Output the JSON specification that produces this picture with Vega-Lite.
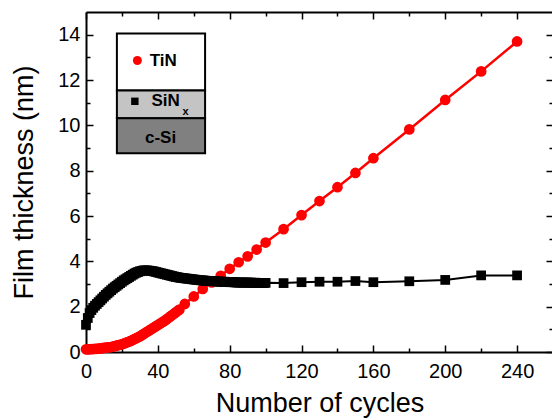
{
  "$schema": "https://vega.github.io/schema/vega-lite/v6.json",
  "width": 467,
  "height": 340,
  "autosize": {"type": "none"},
  "padding": {"left": 86, "top": 12, "right": 0, "bottom": 68},
  "background": "white",
  "config": {
    "view": {"stroke": null},
    "axis": {
      "labelFont": "Liberation Sans",
      "titleFont": "Liberation Sans",
      "labelFontSize": 20,
      "titleFontSize": 27,
      "titleFontWeight": "normal",
      "labelColor": "black",
      "titleColor": "black",
      "domainColor": "black",
      "tickColor": "black",
      "domainWidth": 2,
      "tickWidth": 1.5,
      "grid": false,
      "labelFlush": false,
      "labelOverlap": false
    }
  },
  "datasets": {
    "sinx": [
      {"cycles": 0, "thickness": 1.2}, {"cycles": 1, "thickness": 1.5}, {"cycles": 2, "thickness": 1.72}, {"cycles": 3, "thickness": 1.85}, {"cycles": 4, "thickness": 1.95},
      {"cycles": 5, "thickness": 2.04}, {"cycles": 6, "thickness": 2.12}, {"cycles": 7, "thickness": 2.2}, {"cycles": 8, "thickness": 2.28}, {"cycles": 9, "thickness": 2.36},
      {"cycles": 10, "thickness": 2.44}, {"cycles": 11, "thickness": 2.52}, {"cycles": 12, "thickness": 2.59}, {"cycles": 13, "thickness": 2.66}, {"cycles": 14, "thickness": 2.73},
      {"cycles": 15, "thickness": 2.8}, {"cycles": 16, "thickness": 2.86}, {"cycles": 17, "thickness": 2.92}, {"cycles": 18, "thickness": 2.98}, {"cycles": 19, "thickness": 3.04},
      {"cycles": 20, "thickness": 3.1}, {"cycles": 21, "thickness": 3.16}, {"cycles": 22, "thickness": 3.21}, {"cycles": 23, "thickness": 3.26}, {"cycles": 24, "thickness": 3.31},
      {"cycles": 25, "thickness": 3.36}, {"cycles": 26, "thickness": 3.41}, {"cycles": 27, "thickness": 3.46}, {"cycles": 28, "thickness": 3.5}, {"cycles": 29, "thickness": 3.53},
      {"cycles": 30, "thickness": 3.56}, {"cycles": 31, "thickness": 3.58}, {"cycles": 32, "thickness": 3.6}, {"cycles": 33, "thickness": 3.6}, {"cycles": 34, "thickness": 3.6},
      {"cycles": 35, "thickness": 3.59}, {"cycles": 36, "thickness": 3.58}, {"cycles": 37, "thickness": 3.57}, {"cycles": 38, "thickness": 3.55}, {"cycles": 39, "thickness": 3.53},
      {"cycles": 40, "thickness": 3.51}, {"cycles": 41, "thickness": 3.49}, {"cycles": 42, "thickness": 3.47}, {"cycles": 43, "thickness": 3.45}, {"cycles": 44, "thickness": 3.43},
      {"cycles": 45, "thickness": 3.41}, {"cycles": 46, "thickness": 3.39}, {"cycles": 47, "thickness": 3.37}, {"cycles": 48, "thickness": 3.35}, {"cycles": 49, "thickness": 3.33},
      {"cycles": 50, "thickness": 3.31}, {"cycles": 51, "thickness": 3.3}, {"cycles": 52, "thickness": 3.28}, {"cycles": 53, "thickness": 3.27}, {"cycles": 54, "thickness": 3.26},
      {"cycles": 55, "thickness": 3.25}, {"cycles": 56, "thickness": 3.24}, {"cycles": 57, "thickness": 3.23}, {"cycles": 58, "thickness": 3.22}, {"cycles": 59, "thickness": 3.21},
      {"cycles": 60, "thickness": 3.2}, {"cycles": 61, "thickness": 3.19}, {"cycles": 62, "thickness": 3.18}, {"cycles": 63, "thickness": 3.17}, {"cycles": 64, "thickness": 3.16},
      {"cycles": 65, "thickness": 3.16}, {"cycles": 66, "thickness": 3.15}, {"cycles": 67, "thickness": 3.14}, {"cycles": 68, "thickness": 3.14}, {"cycles": 69, "thickness": 3.13},
      {"cycles": 70, "thickness": 3.13}, {"cycles": 71, "thickness": 3.12}, {"cycles": 72, "thickness": 3.12}, {"cycles": 73, "thickness": 3.11}, {"cycles": 74, "thickness": 3.11},
      {"cycles": 75, "thickness": 3.1}, {"cycles": 76, "thickness": 3.1}, {"cycles": 77, "thickness": 3.1}, {"cycles": 78, "thickness": 3.09}, {"cycles": 79, "thickness": 3.09},
      {"cycles": 80, "thickness": 3.08}, {"cycles": 81, "thickness": 3.08}, {"cycles": 82, "thickness": 3.08}, {"cycles": 83, "thickness": 3.07}, {"cycles": 84, "thickness": 3.07},
      {"cycles": 85, "thickness": 3.06}, {"cycles": 86, "thickness": 3.07}, {"cycles": 87, "thickness": 3.06}, {"cycles": 88, "thickness": 3.06}, {"cycles": 89, "thickness": 3.07},
      {"cycles": 90, "thickness": 3.06}, {"cycles": 91, "thickness": 3.06}, {"cycles": 92, "thickness": 3.06}, {"cycles": 93, "thickness": 3.05}, {"cycles": 94, "thickness": 3.06},
      {"cycles": 95, "thickness": 3.05}, {"cycles": 96, "thickness": 3.05}, {"cycles": 97, "thickness": 3.05}, {"cycles": 98, "thickness": 3.05}, {"cycles": 99, "thickness": 3.04},
      {"cycles": 100, "thickness": 3.05}, {"cycles": 110, "thickness": 3.04}, {"cycles": 120, "thickness": 3.08}, {"cycles": 130, "thickness": 3.1}, {"cycles": 140, "thickness": 3.1},
      {"cycles": 150, "thickness": 3.13}, {"cycles": 160, "thickness": 3.08}, {"cycles": 180, "thickness": 3.12}, {"cycles": 200, "thickness": 3.18}, {"cycles": 220, "thickness": 3.38},
      {"cycles": 240, "thickness": 3.38}
    ],
    "tin": [
      {"cycles": 0, "thickness": 0.12}, {"cycles": 1, "thickness": 0.12}, {"cycles": 2, "thickness": 0.12}, {"cycles": 3, "thickness": 0.13}, {"cycles": 4, "thickness": 0.13},
      {"cycles": 5, "thickness": 0.14}, {"cycles": 6, "thickness": 0.14}, {"cycles": 7, "thickness": 0.15}, {"cycles": 8, "thickness": 0.16}, {"cycles": 9, "thickness": 0.17},
      {"cycles": 10, "thickness": 0.18}, {"cycles": 11, "thickness": 0.19}, {"cycles": 12, "thickness": 0.2}, {"cycles": 13, "thickness": 0.21}, {"cycles": 14, "thickness": 0.22},
      {"cycles": 15, "thickness": 0.24}, {"cycles": 16, "thickness": 0.26}, {"cycles": 17, "thickness": 0.28}, {"cycles": 18, "thickness": 0.3}, {"cycles": 19, "thickness": 0.32},
      {"cycles": 20, "thickness": 0.34}, {"cycles": 21, "thickness": 0.37}, {"cycles": 22, "thickness": 0.4}, {"cycles": 23, "thickness": 0.43}, {"cycles": 24, "thickness": 0.46},
      {"cycles": 25, "thickness": 0.49}, {"cycles": 26, "thickness": 0.53}, {"cycles": 27, "thickness": 0.57}, {"cycles": 28, "thickness": 0.61}, {"cycles": 29, "thickness": 0.65},
      {"cycles": 30, "thickness": 0.69}, {"cycles": 31, "thickness": 0.74}, {"cycles": 32, "thickness": 0.79}, {"cycles": 33, "thickness": 0.84}, {"cycles": 34, "thickness": 0.89},
      {"cycles": 35, "thickness": 0.94}, {"cycles": 36, "thickness": 0.99}, {"cycles": 37, "thickness": 1.04}, {"cycles": 38, "thickness": 1.09}, {"cycles": 39, "thickness": 1.14},
      {"cycles": 40, "thickness": 1.19}, {"cycles": 41, "thickness": 1.24}, {"cycles": 42, "thickness": 1.29}, {"cycles": 43, "thickness": 1.34}, {"cycles": 44, "thickness": 1.39},
      {"cycles": 45, "thickness": 1.45}, {"cycles": 46, "thickness": 1.51}, {"cycles": 47, "thickness": 1.57}, {"cycles": 48, "thickness": 1.63}, {"cycles": 49, "thickness": 1.69},
      {"cycles": 50, "thickness": 1.75}, {"cycles": 51, "thickness": 1.81}, {"cycles": 52, "thickness": 1.87}, {"cycles": 55, "thickness": 2.12}, {"cycles": 60, "thickness": 2.45},
      {"cycles": 65, "thickness": 2.78}, {"cycles": 70, "thickness": 3.07}, {"cycles": 75, "thickness": 3.36}, {"cycles": 80, "thickness": 3.67}, {"cycles": 85, "thickness": 3.96},
      {"cycles": 90, "thickness": 4.22}, {"cycles": 95, "thickness": 4.52}, {"cycles": 100, "thickness": 4.83}, {"cycles": 110, "thickness": 5.42}, {"cycles": 120, "thickness": 6.04},
      {"cycles": 130, "thickness": 6.66}, {"cycles": 140, "thickness": 7.27}, {"cycles": 150, "thickness": 7.9}, {"cycles": 160, "thickness": 8.55}, {"cycles": 180, "thickness": 9.82},
      {"cycles": 200, "thickness": 11.12}, {"cycles": 220, "thickness": 12.38}, {"cycles": 240, "thickness": 13.7}
    ]
  },
  "resolve": {"axis": {"x": "independent", "y": "independent"}},
  "layer": [
    {
      "data": {"name": "tin"},
      "mark": {"type": "line", "color": "#ff0000", "strokeWidth": 2.5},
      "encoding": {
        "x": {"field": "cycles", "type": "quantitative", "scale": {"domain": [0, 260], "nice": false, "zero": false},
          "axis": {"orient": "top", "values": [0, 40, 80, 120, 160, 200, 240], "labels": false, "tickSize": -7, "title": null}},
        "y": {"field": "thickness", "type": "quantitative", "scale": {"domain": [0, 15], "nice": false, "zero": false},
          "axis": {"orient": "right", "values": [0, 2, 4, 6, 8, 10, 12, 14], "labels": false, "tickSize": -7, "title": null}}
      }
    },
    {
      "data": {"name": "tin"},
      "mark": {"type": "circle", "color": "#ff0000", "size": 115, "opacity": 1},
      "encoding": {
        "x": {"field": "cycles", "type": "quantitative",
          "axis": {"orient": "top", "values": [20, 60, 100, 140, 180, 220], "labels": false, "domain": false, "tickSize": -4, "title": null}},
        "y": {"field": "thickness", "type": "quantitative",
          "axis": {"orient": "right", "values": [1, 3, 5, 7, 9, 11, 13], "labels": false, "domain": false, "tickSize": -4, "title": null}}
      }
    },
    {
      "data": {"name": "sinx"},
      "mark": {"type": "line", "color": "black", "strokeWidth": 2},
      "encoding": {
        "x": {"field": "cycles", "type": "quantitative",
          "axis": {"orient": "bottom", "values": [0, 40, 80, 120, 160, 200, 240], "tickSize": -7, "labelPadding": 16, "title": "Number of cycles", "titlePadding": 9}},
        "y": {"field": "thickness", "type": "quantitative",
          "axis": {"orient": "left", "values": [0, 2, 4, 6, 8, 10, 12, 14], "tickSize": -7, "labelPadding": 13, "title": "Film thickness (nm)", "titlePadding": 19}}
      }
    },
    {
      "data": {"name": "sinx"},
      "mark": {"type": "square", "color": "black", "size": 95, "opacity": 1},
      "encoding": {
        "x": {"field": "cycles", "type": "quantitative",
          "axis": {"orient": "bottom", "values": [20, 60, 100, 140, 180, 220], "labels": false, "domain": false, "tickSize": -4, "title": null}},
        "y": {"field": "thickness", "type": "quantitative",
          "axis": {"orient": "left", "values": [1, 3, 5, 7, 9, 11, 13], "labels": false, "domain": false, "tickSize": -4, "title": null}}
      }
    },
    {
      "data": {"values": [{}]},
      "mark": {"type": "rect", "fill": "white", "stroke": "black", "strokeWidth": 2},
      "encoding": {
        "x": {"datum": 17.2, "type": "quantitative", "axis": null}, "x2": {"datum": 66.3},
        "y": {"datum": 14.05, "type": "quantitative", "axis": null}, "y2": {"datum": 11.54}
      }
    },
    {
      "data": {"values": [{}]},
      "mark": {"type": "rect", "fill": "#c4c4c4", "stroke": "black", "strokeWidth": 2},
      "encoding": {
        "x": {"datum": 17.2, "type": "quantitative", "axis": null}, "x2": {"datum": 66.3},
        "y": {"datum": 11.54, "type": "quantitative", "axis": null}, "y2": {"datum": 10.31}
      }
    },
    {
      "data": {"values": [{}]},
      "mark": {"type": "rect", "fill": "#808080", "stroke": "black", "strokeWidth": 2},
      "encoding": {
        "x": {"datum": 17.2, "type": "quantitative", "axis": null}, "x2": {"datum": 66.3},
        "y": {"datum": 10.31, "type": "quantitative", "axis": null}, "y2": {"datum": 8.77}
      }
    },
    {
      "data": {"values": [{}]},
      "mark": {"type": "circle", "color": "#ff0000", "size": 80, "opacity": 1},
      "encoding": {
        "x": {"datum": 28.6, "type": "quantitative", "axis": null},
        "y": {"datum": 12.86, "type": "quantitative", "axis": null}
      }
    },
    {
      "data": {"values": [{}]},
      "mark": {"type": "square", "color": "black", "size": 55, "opacity": 1},
      "encoding": {
        "x": {"datum": 27.2, "type": "quantitative", "axis": null},
        "y": {"datum": 11.06, "type": "quantitative", "axis": null}
      }
    },
    {
      "data": {"values": [{}]},
      "mark": {"type": "text", "text": "TiN", "align": "left", "baseline": "middle", "font": "Liberation Sans", "fontWeight": "bold", "fontSize": 17, "color": "black"},
      "encoding": {
        "x": {"datum": 35.5, "type": "quantitative", "axis": null},
        "y": {"datum": 12.86, "type": "quantitative", "axis": null}
      }
    },
    {
      "data": {"values": [{}]},
      "mark": {"type": "text", "text": "SiN", "align": "left", "baseline": "middle", "font": "Liberation Sans", "fontWeight": "bold", "fontSize": 17, "color": "black"},
      "encoding": {
        "x": {"datum": 36.4, "type": "quantitative", "axis": null},
        "y": {"datum": 11.06, "type": "quantitative", "axis": null}
      }
    },
    {
      "data": {"values": [{}]},
      "mark": {"type": "text", "text": "x", "align": "left", "baseline": "middle", "font": "Liberation Sans", "fontWeight": "bold", "fontSize": 11, "color": "black"},
      "encoding": {
        "x": {"datum": 53.7, "type": "quantitative", "axis": null},
        "y": {"datum": 10.59, "type": "quantitative", "axis": null}
      }
    },
    {
      "data": {"values": [{}]},
      "mark": {"type": "text", "text": "c-Si", "align": "center", "baseline": "middle", "font": "Liberation Sans", "fontWeight": "bold", "fontSize": 17, "color": "black"},
      "encoding": {
        "x": {"datum": 41.5, "type": "quantitative", "axis": null},
        "y": {"datum": 9.43, "type": "quantitative", "axis": null}
      }
    }
  ]
}
